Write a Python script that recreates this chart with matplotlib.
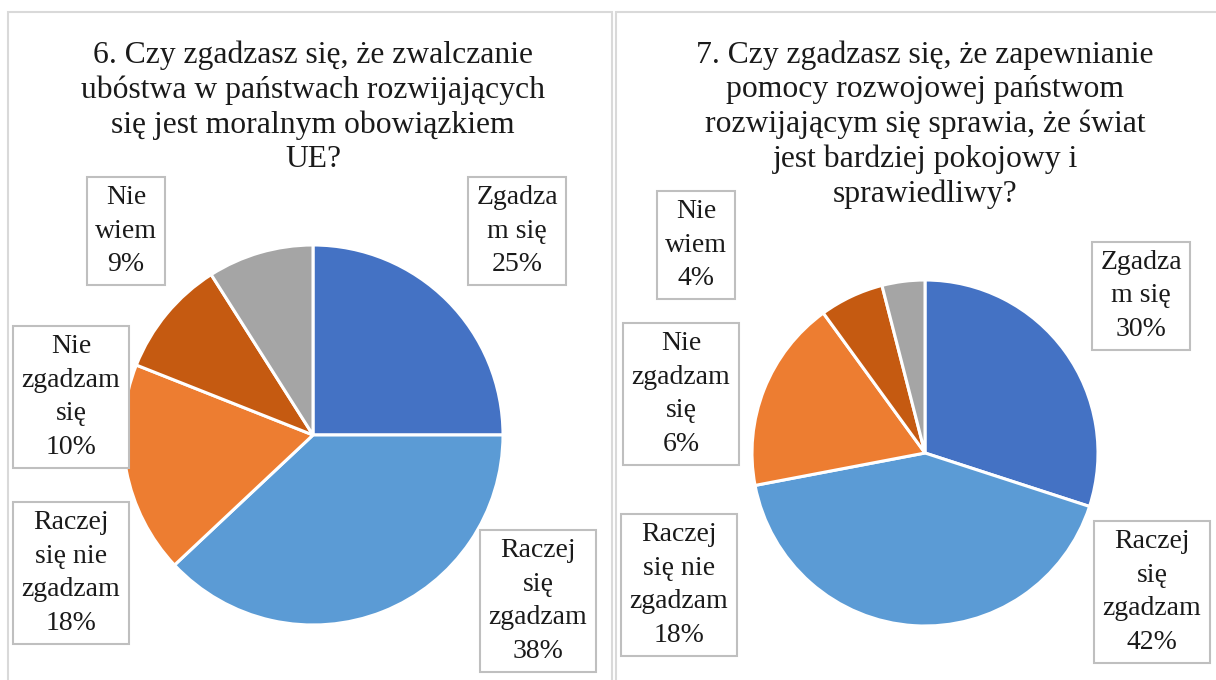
import matplotlib
matplotlib.use("Agg")
import matplotlib.pyplot as plt
from matplotlib.patches import Rectangle

plt.rcParams['font.family'] = ['Liberation Serif', 'DejaVu Serif']

# ---- data ----
categories = ["Zgadzam się", "Raczej się zgadzam", "Raczej się nie zgadzam",
              "Nie zgadzam się", "Nie wiem"]
label_text = ["Zgadza\nm się", "Raczej\nsię\nzgadzam", "Raczej\nsię nie\nzgadzam",
              "Nie\nzgadzam\nsię", "Nie\nwiem"]
values_q6 = [25, 38, 18, 10, 9]
values_q7 = [30, 42, 18, 6, 4]
title_q6 = "6. Czy zgadzasz się, że zwalczanie\nubóstwa w państwach rozwijających\nsię jest moralnym obowiązkiem\nUE?"
title_q7 = ("7. Czy zgadzasz się, że zapewnianie\npomocy rozwojowej państwom\n"
            "rozwijającym się sprawia, że świat\njest bardziej pokojowy i\nsprawiedliwy?")
colors = ["#4472C4", "#5B9BD5", "#ED7D31", "#C55A11", "#A5A5A5"]

W, H = 1216, 680
fig = plt.figure(figsize=(W / 100, H / 100), dpi=100)
ax = fig.add_axes([0, 0, 1, 1])


def Y(y):
    return H - y


# panel borders
ax.add_patch(Rectangle((8, Y(690)), 604, 678, fill=False, ec="#D9D9D9", lw=1.5))
ax.add_patch(Rectangle((616, Y(690)), 610, 678, fill=False, ec="#D9D9D9", lw=1.5))

panels = [
    dict(values=values_q6, title=title_q6, center=(313, 435), r=190, tx=313,
         lab_pos=[(517, 231), (538, 601), (71, 573), (71, 397), (126, 231)]),
    dict(values=values_q7, title=title_q7, center=(925, 453), r=173, tx=925,
         lab_pos=[(1141, 296), (1152, 592), (679, 585), (681, 394), (696, 245)]),
]

for p in panels:
    cx, cy = p["center"]
    ax.pie(p["values"], colors=colors, startangle=90, counterclock=False,
           center=(cx, Y(cy)), radius=p["r"],
           wedgeprops=dict(edgecolor="white", linewidth=2.2))
    ax.text(p["tx"], Y(40), p["title"], ha="center", va="top", fontsize=22.8,
            linespacing=1.25, color="#1a1a1a")
    for (lx, ly), lt, v in zip(p["lab_pos"], label_text, p["values"]):
        ax.text(lx, Y(ly), f"{lt}\n{v}%", ha="center", va="center", fontsize=20,
                linespacing=1.44, color="#1a1a1a",
                bbox=dict(boxstyle="square,pad=0.3", fc="white", ec="#BFBFBF", lw=1.5))

ax.set_xlim(0, W)
ax.set_ylim(0, H)
ax.set_aspect("auto")
ax.axis("off")
fig.savefig("out.png", dpi=100)
